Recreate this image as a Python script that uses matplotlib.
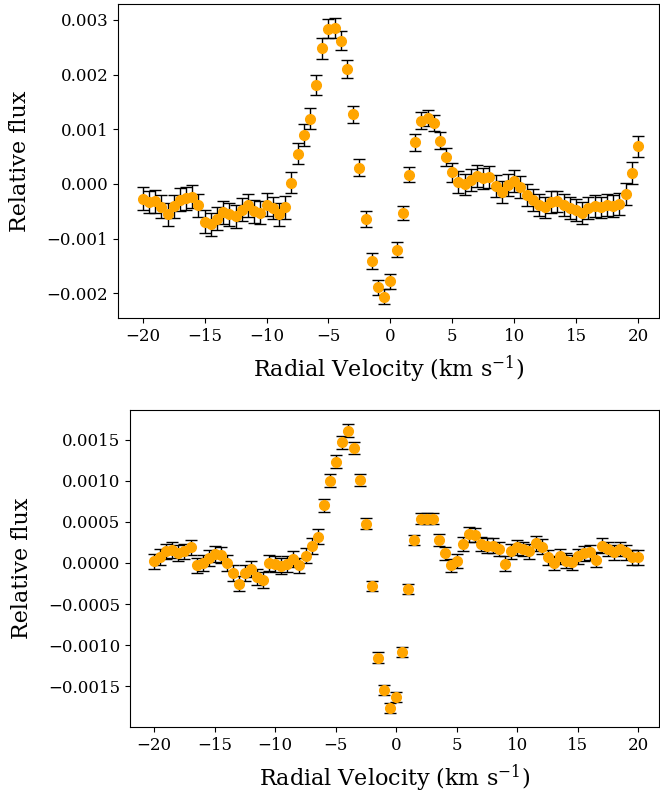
import numpy as np
import matplotlib
matplotlib.use('Agg')
import matplotlib.pyplot as plt

plt.rcParams['font.family'] = 'DejaVu Serif'
plt.rcParams['mathtext.fontset'] = 'dejavuserif'

vel = np.arange(-20, 20.5, 0.5)

flux_top = [-0.00027, -0.00033, -0.00032, -0.00042, -0.00055, -0.00041, -0.00029, -0.00026,
            -0.00023, -0.00039, -0.00069, -0.00074, -0.00064, -0.00052, -0.00055, -0.00059,
            -0.00047, -0.00039, -0.00050, -0.00053, -0.00038, -0.00044, -0.00055, -0.00043,
            0.00002, 0.00055, 0.00090, 0.00119, 0.00181, 0.00248, 0.00284, 0.00285,
            0.00262, 0.00210, 0.00127, 0.00030, -0.00064, -0.00141, -0.00189, -0.00206,
            -0.00178,
            -0.00120, -0.00053, 0.00017, 0.00076, 0.00116, 0.00121, 0.00111, 0.00079,
            0.00049, 0.00021, 0.00003, -0.00001, 0.00007, 0.00014, 0.00010, 0.00012,
            -0.00003, -0.00015, -0.00002, 0.00006, -0.00006, -0.00020, -0.00030, -0.00038,
            -0.00043, -0.00033, -0.00032, -0.00039, -0.00044, -0.00047, -0.00053, -0.00044,
            -0.00041, -0.00043, -0.00039, -0.00041, -0.00036, -0.00018, 0.00020, 0.00069]

err_top = [0.00021] * 24 + \
          [0.00019, 0.00019, 0.00020, 0.00019, 0.00019, 0.00019, 0.00018, 0.00018,
           0.00017, 0.00017, 0.00016, 0.00015, 0.00014, 0.00014, 0.00014, 0.00013,
           0.00014, 0.00014, 0.00013, 0.00014, 0.00015, 0.00015, 0.00015, 0.00015,
           0.00016, 0.00017, 0.00018] + \
          [0.00020] * 29 + [0.00019]

flux_bot = [0.00002, 0.00007, 0.00014, 0.00016, 0.00012, 0.00014, 0.00019, -0.00003,
            0.00000, 0.00006, 0.00011, 0.00010, 0.00000, -0.00012, -0.00025, -0.00012,
            -0.00007, -0.00017, -0.00021, 0.00000, -0.00001, -0.00004, -0.00001, 0.00005,
            -0.00003, 0.00009, 0.00021, 0.00032, 0.00070, 0.00100, 0.00123, 0.00147,
            0.00161, 0.00140, 0.00101, 0.00048, -0.00028, -0.00115, -0.00155, -0.00176,
            -0.00163,
            -0.00108, -0.00032, 0.00028, 0.00054, 0.00054, 0.00054, 0.00028, 0.00012,
            -0.00003, 0.00002, 0.00023, 0.00035, 0.00034, 0.00023, 0.00021, 0.00021,
            0.00017, -0.00001, 0.00014, 0.00019, 0.00017, 0.00014, 0.00024, 0.00020,
            0.00007, 0.00000, 0.00008, 0.00003, 0.00001, 0.00008, 0.00012, 0.00013,
            0.00004, 0.00021, 0.00017, 0.00013, 0.00017, 0.00013, 0.00007, 0.00007]

err_bot = [0.000095] * 27 + \
          [0.00009, 0.00008, 0.00008, 0.00008, 0.000078, 0.000075, 0.00007, 0.00007,
           0.00007, 0.000065, 0.000067, 0.00006, 0.00006, 0.00006, 0.00006, 0.00006,
           0.000065, 0.00007, 0.00007, 0.00007, 0.000075, 0.00008, 0.00008, 0.000085] + \
          [0.00009] * 30


def plot_profile(ax, flux, err):
    ax.errorbar(vel, flux, yerr=err, fmt='o', color='orange', markersize=7,
                ecolor='k', elinewidth=1, capsize=4, capthick=1)
    ax.set_xlim(-22, 21.7)
    ax.set_xticks([-20, -15, -10, -5, 0, 5, 10, 15, 20])
    ax.set_xlabel('Radial Velocity (km s$^{-1}$)', fontsize=16, labelpad=6)
    ax.set_ylabel('Relative flux', fontsize=16, labelpad=11)
    ax.tick_params(labelsize=12)


fig = plt.figure(figsize=(6.6, 7.93), dpi=100)
ax1 = fig.add_axes([0.1788, 0.5990, 0.8197, 0.3960])
ax2 = fig.add_axes([0.1970, 0.0832, 0.8015, 0.3997])

plot_profile(ax1, flux_top, err_top)
plot_profile(ax2, flux_bot, err_bot)

fig.savefig('out.png', dpi=100)
